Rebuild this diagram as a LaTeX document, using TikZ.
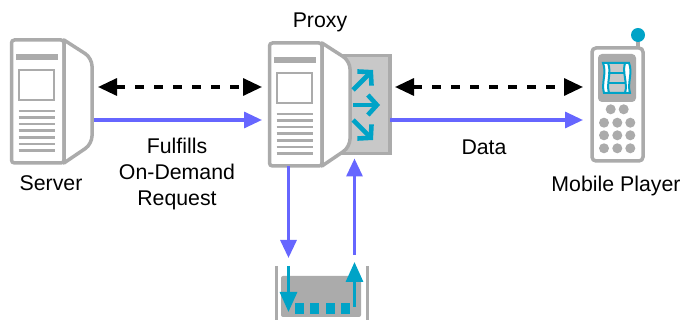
\documentclass[tikz,border=0pt]{standalone}
\usepackage{fontspec}
\setmainfont{Liberation Sans}
\usetikzlibrary{arrows.meta,positioning}

\definecolor{devgray}{HTML}{ABABAB}
\definecolor{lightgray}{HTML}{C8C8C8}
\definecolor{teal}{HTML}{00A3C7}
\definecolor{datablue}{HTML}{6666FF}

\tikzset{
  label/.style={font=\fontsize{21.3}{26}\selectfont,align=center,inner sep=0pt},
  slot/.style={inner sep=0pt,outer sep=0pt},
  dataline/.style={datablue,line width=3.2pt,-{Triangle[length=18pt,width=16pt]}},
  ctrlline/.style={black,line width=3.3pt,dash pattern=on 9pt off 10pt,
    {Triangle[length=19pt,width=17pt]}-{Triangle[length=19pt,width=17pt]}},
  fanline/.style={teal,line width=4.6pt,-{Straight Barb[length=9pt,width=20pt,line width=4.6pt]}},
  trayline/.style={teal,line width=3.2pt,-{Triangle[length=20pt,width=17pt]}},
  pics/hostshape/.style={code={
    % front panel and side panel, origin at the top left
    \draw[devgray,line width=3.5pt,fill=white,rounded corners=3pt]
      (54,0) -- (1.5,0) -- (1.5,123) -- (54,123) -- cycle;
    \draw[devgray,line width=3.5pt,fill=white,line join=round]
      (54,0) [rounded corners=8pt] -- (82,18) -- (82,104) [sharp corners] -- (54,123) -- cycle;
    \fill[devgray] (6,14) rectangle (48,20);
    \draw[devgray,line width=1.2pt] (9,30) rectangle (44,60);
    \foreach \k in {71,77.6,84.2,90.8,97.4,104,110.5}
      \draw[devgray,line width=2.6pt] (8.5,\k) -- (45,\k);
  }}
}

\begin{document}
\begin{tikzpicture}[x=1pt,y=-1pt]
  \useasboundingbox (0,0) rectangle (683,320);

  \node[slot,minimum width=84pt,minimum height=123pt] (server) at (52,101.5) {};
  \node[slot,minimum width=84pt,minimum height=123pt,right=174pt of server,yshift=-3pt] (proxy) {};
  \node[slot,draw=devgray,fill=lightgray,line width=3.5pt,minimum width=50pt,minimum height=98pt] (switch) at (365,104.5) {};
  \node[slot,minimum width=53pt,minimum height=115pt] (phone) at (617.5,104.5) {};
  \node[slot,minimum width=91pt,minimum height=54pt] (tray) at (321.5,293) {};

  \pic at (server.north west) {hostshape};
  \pic at (proxy.north west) {hostshape};

  % fan of arrows on the switch
  \draw[fanline] (353,90) -- (373,70);
  \draw[fanline] (353,105) -- (380,105);
  \draw[fanline] (353,120) -- (373,140);

  % phone
  \draw[devgray,line width=3.5pt] (638,36) -- (638,48);
  \fill[teal] (638,35) circle (7pt);
  \draw[devgray,line width=3.5pt,fill=white,rounded corners=4pt] (592,48) rectangle (643,161);
  \fill[devgray,rounded corners=4pt] (598,54) rectangle (636,102);
  \foreach \px in {610.7,623.7} \fill[devgray] (\px,109.3) circle (5pt);
  \foreach \py in {122.7,135.3,148.3}
    \foreach \px in {604,617.3,630.3} \fill[devgray] (\px,\py) circle (5pt);
  % film strip
  \fill[white] (603,63) .. controls (607,73) and (601,83) .. (604,93) -- (630,93)
    .. controls (627,83) and (633,73) .. (629,63) -- cycle;
  \fill[lightgray] (609,64) rectangle (625,72);
  \fill[lightgray] (609,74) rectangle (625,82);
  \fill[lightgray] (609,84) rectangle (625,92);
  \draw[teal,line width=2pt] (603,63) .. controls (607,73) and (601,83) .. (604,93) -- (630,93)
    .. controls (627,83) and (633,73) .. (629,63) -- cycle;
  \draw[teal,line width=2pt] (608,63) .. controls (612,73) and (606,83) .. (609,93);
  \draw[teal,line width=2pt] (625,63) .. controls (622,73) and (628,83) .. (625,93);
  \draw[teal,line width=1.6pt] (608,73) -- (625,73) (608,83) -- (625,83);

  % tray
  \draw[devgray,line width=3pt] (tray.north west) -- (tray.south west);
  \draw[devgray,line width=3pt] (tray.north east) -- (tray.south east);
  \fill[devgray,rounded corners=2pt] (281,276) rectangle (361,317);
  \foreach \qx in {295,310,325.7,340.7} \fill[teal] (\qx,303) rectangle ++(9,11);
  \draw[trayline] (288.5,266) -- (288.5,312);
  \draw[trayline] (354.5,307) -- (354.5,262);

  % connectors
  \draw[ctrlline,shorten <=4pt,shorten >=6pt] ([yshift=14.5pt]server.east) -- ([yshift=14.5pt]server.east -| proxy.west);
  \draw[dataline,shorten >=6pt] ([yshift=-18.5pt]server.east) -- ([yshift=-18.5pt]server.east -| proxy.west);
  \draw[ctrlline,shorten <=5pt,shorten >=8pt] ([yshift=17.5pt]switch.east) -- ([yshift=17.5pt]phone.west);
  \draw[dataline,shorten >=8pt] ([yshift=-15.5pt]switch.east) -- ([yshift=-15.5pt]phone.west);
  \draw[dataline,shorten >=8pt] ([xshift=20.5pt]proxy.south west) -- ([xshift=12.5pt]tray.north west);
  \draw[dataline,shorten <=11pt,shorten >=5pt] ([xshift=-12.5pt]tray.north east) -- ([xshift=-10.5pt]switch.south);

  % labels
  \node[label] (proxylabel) at (320,22) {Proxy};
  \node[label] (serverlabel) at (51,183) {Server};
  \node[label] (requestlabel) at (177,174) {Fulfills\\On-Demand\\Request};
  \node[label] (datalabel) at (484,147) {Data};
  \node[label] (playerlabel) at (616,186) {Mobile Player};
\end{tikzpicture}
\end{document}
